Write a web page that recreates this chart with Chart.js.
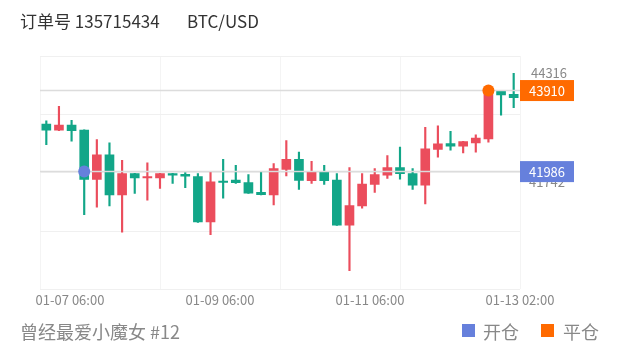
<!DOCTYPE html>
<html>
<head>
<meta charset="utf-8">
<script src="https://cdn.jsdelivr.net/npm/chart.js@4"></script>
<style>
html,body{margin:0;padding:0;background:#fff;}
#wrap{position:relative;width:620px;height:352px;overflow:hidden;font-family:"Noto Sans CJK SC","Noto Sans",sans-serif;}
#c{position:absolute;left:0;top:0;}
.t{position:absolute;white-space:pre;line-height:24px;}
.title{top:9px;font-size:17px;color:#333;}
.foot{top:319px;font-size:18px;color:#888;}
.sw{position:absolute;top:324px;width:13px;height:13px;}
</style>
</head>
<body>
<div id="wrap">
  <canvas id="c" width="620" height="352"></canvas>
  <div class="t title" style="left:20px">订单号 135715434</div>
  <div class="t title" style="left:187px">BTC/USD</div>
  <div class="t foot" style="left:20px">曾经最爱小魔女 #12</div>
  <div class="sw" style="left:462px;background:#6680dc"></div>
  <div class="t foot" style="left:483px">开仓</div>
  <div class="sw" style="left:541px;background:#ff6a00"></div>
  <div class="t foot" style="left:563px">平仓</div>
</div>
<script>
const categories = [
  '01-06 22:00','01-07 02:00','01-07 06:00','01-07 10:00','01-07 14:00','01-07 18:00','01-07 22:00',
  '01-08 02:00','01-08 06:00','01-08 10:00','01-08 14:00','01-08 18:00','01-08 22:00',
  '01-09 02:00','01-09 06:00','01-09 10:00','01-09 14:00','01-09 18:00','01-09 22:00',
  '01-10 02:00','01-10 06:00','01-10 10:00','01-10 14:00','01-10 18:00','01-10 22:00',
  '01-11 02:00','01-11 06:00','01-11 10:00','01-11 14:00','01-11 18:00','01-11 22:00',
  '01-12 02:00','01-12 06:00','01-12 10:00','01-12 14:00','01-12 18:00','01-12 22:00',
  '01-13 02:00'
];
const openVals  = [43112,42972,43089,42972,41799,42385,41430,41939,41834,41838,41939,41923,41869,40790,41759,41782,41728,41494,41430,42040,42275,41768,41993,41782,40712,41172,41681,41899,42080,41939,41665,42510,42650,42589,42667,42760,43894,43823];
const closeVals = [42972,43089,42955,41799,42385,41430,41939,41838,41857,41939,41899,41876,40790,41745,41728,41721,41477,41440,42057,42275,41775,41993,41768,40712,41182,41688,41916,42080,41939,41665,42526,42643,42589,42697,42784,43910,43809,43739];
const highVals  = [43190,43535,43206,42980,42744,42667,42251,41945,42197,41945,41945,41963,41939,41979,42275,42134,41916,41979,42174,42721,42448,42228,42134,41939,42080,41939,42057,42369,42566,42057,43035,43072,42941,42702,42861,43920,43898,44316];
const lowVals   = [42627,42960,42707,40961,41142,41172,40548,41470,41306,41587,41705,41604,40778,40492,41353,41705,41470,41435,41196,41885,41564,41705,41681,40708,39633,41118,41494,41822,41806,41564,41219,42331,42495,42432,42448,42683,43324,43504];
const xTickIdx = [2, 14, 26, 37];
const yMin = 39190, yMax = 44730;
const openPrice = 41986, openIdx = 3;
const closePrice = 43910, closeIdx = 35;
const markHigh = 44316, markLow = 41742;

const UP = '#eb4d5c', DOWN = '#12a688';
const BLUE = '#6680dc', ORANGE = '#ff6a00';
const FONT = '"Noto Sans CJK SC","Noto Sans",sans-serif';
const colors = categories.map((_, i) => closeVals[i] >= openVals[i] ? UP : DOWN);
const openDot = categories.map((_, i) => i === openIdx ? openPrice : null);
const closeDot = categories.map((_, i) => i === closeIdx ? closePrice : null);

const rightLabels = {
  id: 'rightLabels',
  afterDatasetsDraw(chart) {
    const { ctx, chartArea, scales: { y } } = chart;
    const x0 = chartArea.right, w = 54, cx = x0 + w / 2;
    ctx.save();
    ctx.font = '13px ' + FONT;
    ctx.textAlign = 'center';
    ctx.textBaseline = 'middle';
    ctx.fillStyle = '#888';
    ctx.fillText(String(markHigh), cx + 2, y.getPixelForValue(markHigh));
    ctx.fillText(String(markLow), cx, y.getPixelForValue(markLow));
    [[closePrice, ORANGE], [openPrice, BLUE]].forEach(([v, c]) => {
      const py = y.getPixelForValue(v);
      ctx.fillStyle = c;
      ctx.fillRect(x0, py - 10.5, w, 21);
      ctx.fillStyle = '#fff';
      ctx.fillText(String(v), cx, py + 0.5);
    });
    ctx.restore();
  }
};

new Chart(document.getElementById('c'), {
  type: 'bar',
  data: {
    labels: categories,
    datasets: [
      { type: 'line', label: '开仓', data: openDot, xAxisID: 'x', showLine: false, pointRadius: 6, pointBorderWidth: 0, pointBackgroundColor: BLUE, order: 0 },
      { type: 'line', label: '平仓', data: closeDot, xAxisID: 'x', showLine: false, pointRadius: 6, pointBorderWidth: 0, pointBackgroundColor: ORANGE, order: 0 },
      { type: 'line', label: 'openLine', data: [{ x: 0, y: openPrice }, { x: 4, y: openPrice }], xAxisID: 'xg', borderColor: '#dcdcdc', borderWidth: 1.5, pointRadius: 0, order: 1 },
      { type: 'line', label: 'closeLine', data: [{ x: 0, y: closePrice }, { x: 4, y: closePrice }], xAxisID: 'xg', borderColor: '#dcdcdc', borderWidth: 1.5, pointRadius: 0, order: 1 },
      { label: 'body', data: categories.map((_, i) => [openVals[i], closeVals[i]]), xAxisID: 'x', backgroundColor: colors, barThickness: 9, grouped: false, minBarLength: 1.5, order: 2 },
      { label: 'wick', data: categories.map((_, i) => [lowVals[i], highVals[i]]), xAxisID: 'x', backgroundColor: colors, barThickness: 1.5, grouped: false, order: 3 }
    ]
  },
  options: {
    responsive: false,
    animation: false,
    layout: { padding: { left: 40, right: 100, top: 56, bottom: 41 } },
    plugins: { legend: { display: false }, tooltip: { enabled: false } },
    scales: {
      x: { type: 'category', display: false, offset: true },
      xg: { type: 'linear', position: 'bottom', min: 0, max: 4, offset: false,
            ticks: { display: false, stepSize: 1 },
            grid: { color: '#f4f4f4', drawTicks: false, offset: false }, border: { display: false } },
      xl: { type: 'linear', position: 'bottom', min: -0.2, max: 3, offset: false,
            afterBuildTicks: s => { s.ticks = xTickIdx.map((_, k) => ({ value: k })); },
            ticks: { callback: (v, i) => categories[xTickIdx[i]], color: '#888', font: { size: 13, family: FONT },
                     padding: 3, autoSkip: false, maxRotation: 0 },
            grid: { display: false, drawTicks: false, offset: false }, border: { display: false } },
      y: { type: 'linear', position: 'left', min: yMin, max: yMax,
           ticks: { display: false, count: 5 },
           grid: { color: '#f0f0f0', drawTicks: false }, border: { display: false } }
    }
  },
  plugins: [rightLabels]
});
</script>
</body>
</html>
